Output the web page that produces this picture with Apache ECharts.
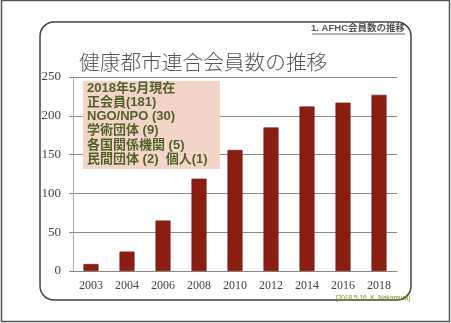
<!DOCTYPE html>
<html><head><meta charset="utf-8">
<script src="https://cdn.jsdelivr.net/npm/echarts@6/dist/echarts.min.js"></script>
<style>html,body{margin:0;padding:0;background:#fff}#c{width:451px;height:323px}</style>
</head><body><div id="c"></div>
<script>
const years = ['2003','2004','2006','2008','2010','2012','2014','2016','2018'];
const members = [9, 25, 65, 119, 156, 185, 212, 217, 227];
const yTicks = [0, 50, 100, 150, 200, 250];
const titleText = '健康都市連合会員数の推移';
const headerText = '1. AFHC会員数の推移';
const footerText = '[2018.5.16. K. Nakamura]';
const noteLines = ['2018年5月現在','正会員(181)','NGO/NPO (30)','学術団体 (9)','各国関係機関 (5)','民間団体 (2)  個人(1)'];

const chart = echarts.init(document.getElementById('c'));
const noteTexts = noteLines.map((t, i) => ({
  type: 'text', left: 87, top: 81.5 + i * 14.3,
  style: { text: t, fill: '#4F6228', font: 'bold 13px "Liberation Sans", "Noto Sans CJK JP", sans-serif' }
}));
chart.setOption({
  animation: false,
  grid: { left: 73, right: 54, top: 77, bottom: 52 },
  title: {
    text: titleText, left: 74, top: 47, padding: 5,
    textStyle: { fontSize: 20.7, fontWeight: 300, color: '#555', fontFamily: '"Noto Sans CJK JP", sans-serif' }
  },
  xAxis: {
    type: 'category', data: years,
    axisLine: { lineStyle: { color: '#888' } },
    axisTick: { length: 4, lineStyle: { color: '#888' } },
    axisLabel: { color: '#444', fontSize: 12, fontFamily: '"Liberation Serif", serif', margin: 9 }
  },
  yAxis: {
    type: 'value', min: yTicks[0], max: yTicks[yTicks.length - 1], interval: 50,
    axisLine: { show: true, lineStyle: { color: '#aaa' } },
    axisTick: { show: true, length: 4, lineStyle: { color: '#888' } },
    axisLabel: { color: '#444', fontSize: 13, fontFamily: '"Liberation Serif", serif', margin: 12 },
    splitLine: { lineStyle: { color: '#888' } }
  },
  series: [{
    type: 'bar', data: members, barWidth: 15,
    itemStyle: { color: '#8C1D12', borderColor: '#6E140B', borderWidth: 0.6 }
  }],
  graphic: [
    { type: 'rect', shape: { x: 1.5, y: 0.5, width: 448, height: 321 }, style: { fill: 'none', stroke: '#555', lineWidth: 1.5 }, z: -1 },
    { type: 'rect', shape: { x: 40, y: 22, width: 371, height: 278, r: 14 }, style: { fill: 'none', stroke: '#444', lineWidth: 1.5 }, z: -1 },
    { type: 'text', right: 46, top: 24, style: { text: headerText, fill: '#555', font: 'bold 9.5px "Liberation Sans", "Noto Sans CJK JP", sans-serif' } },
    { type: 'line', shape: { x1: 312, y1: 34, x2: 405, y2: 34 }, style: { stroke: '#666', lineWidth: 1 } },
    { type: 'text', right: 41, top: 295, style: { text: footerText, fill: '#7A8A10', font: '6.5px "Liberation Sans", sans-serif' } },
    { type: 'rect', shape: { x: 83, y: 81, width: 137, height: 88 }, style: { fill: '#F3D4C8' }, z: 10 },
    ...noteTexts.map(t => Object.assign(t, { z: 11 }))
  ]
});
</script></body></html>
